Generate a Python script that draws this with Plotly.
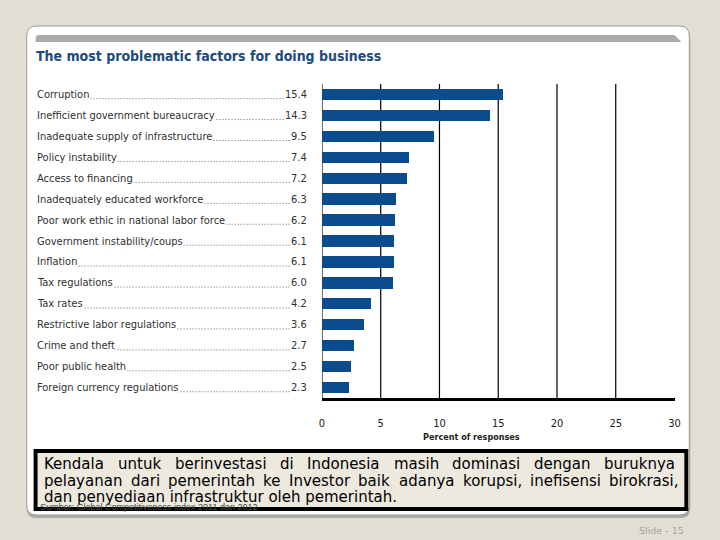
import plotly.graph_objects as go

# ---------------- data ----------------
factors = [
    "Corruption",
    "Inefficient government bureaucracy",
    "Inadequate supply of infrastructure",
    "Policy instability",
    "Access to financing",
    "Inadequately educated workforce",
    "Poor work ethic in national labor force",
    "Government instability/coups",
    "Inflation",
    "Tax regulations",
    "Tax rates",
    "Restrictive labor regulations",
    "Crime and theft",
    "Poor public health",
    "Foreign currency regulations",
]
percents = [15.4, 14.3, 9.5, 7.4, 7.2, 6.3, 6.2, 6.1, 6.1, 6.0, 4.2, 3.6, 2.7, 2.5, 2.3]
x_ticks = [0, 5, 10, 15, 20, 25, 30]
grid_ticks = [0, 5, 10, 15, 20, 25]

title_text = "The most problematic factors for doing business"
axis_title = "Percent of responses"
note_lines = [
    "Kendala untuk berinvestasi di Indonesia masih dominasi dengan buruknya",
    "pelayanan dari pemerintah ke Investor baik adanya korupsi, inefisensi birokrasi,",
    "dan penyediaan infrastruktur oleh pemerintah.",
]
source_text = "Sumber: Global Competitiveness index 2011 dan 2012"
slide_text = "Slide - 15"

# ---------------- helpers ----------------
W, H = 720, 540


def px(x):
    return x / W


def py(y):
    return 1 - y / H


def rrect(x0, y0, x1, y1, r):
    rx, ry = r / W, r / H
    X0, X1 = px(x0), px(x1)
    Y0, Y1 = py(y0), py(y1)
    return (
        f"M{X0+rx},{Y0} L{X1-rx},{Y0} Q{X1},{Y0} {X1},{Y0-ry} "
        f"L{X1},{Y1+ry} Q{X1},{Y1} {X1-rx},{Y1} "
        f"L{X0+rx},{Y1} Q{X0},{Y1} {X0},{Y1+ry} "
        f"L{X0},{Y0-ry} Q{X0},{Y0} {X0+rx},{Y0} Z"
    )


NARROW = "DejaVu Sans Condensed, Liberation Sans Narrow, Arial Narrow, sans-serif"
BAR_COLOR = "#0B4C8E"
TITLE_COLOR = "#1C4B7C"

n = len(factors)
idx = list(range(n))

fig = go.Figure()
fig.add_trace(
    go.Bar(
        x=percents,
        y=idx,
        orientation="h",
        marker=dict(color=BAR_COLOR, line=dict(width=0)),
        width=0.54,
        hoverinfo="skip",
    )
)

shapes = []
shapes.append(dict(type="path", xref="paper", yref="paper", path=rrect(24, 28, 696, 518, 10),
                   fillcolor="#A9A9A9", line=dict(width=0), layer="below"))
shapes.append(dict(type="path", xref="paper", yref="paper", path=rrect(24, 26, 695, 515, 10),
                   fillcolor="white", line=dict(color="#9C9C9C", width=1), layer="below"))
shapes.append(dict(type="path", xref="paper", yref="paper",
                   path=(f"M{px(33)},{py(42)} L{px(33)},{py(38)} Q{px(33)},{py(35)} {px(37)},{py(35)} "
                         f"L{px(680)},{py(35)} L{px(687)},{py(42)} Z"),
                   fillcolor="#ABABAB", line=dict(width=0), layer="below"))
for t in grid_ticks:
    shapes.append(dict(type="line", xref="x", yref="paper", x0=t, x1=t, y0=py(398), y1=py(84),
                       line=dict(color="black", width=1.2), layer="below"))
for i in idx:
    shapes.append(dict(type="line", xref="paper", yref="y", x0=px(34), x1=px(306),
                       y0=i + 0.2, y1=i + 0.2,
                       line=dict(color="#666666", width=1, dash="1px,2px"), layer="below"))
shapes.append(dict(type="rect", xref="paper", yref="paper", x0=px(33), x1=px(692), y0=py(451), y1=py(509),
                   fillcolor="#EEE9DF", line=dict(color="black", width=4), layer="above"))

annotations = []
annotations.append(dict(text=f"<b>{title_text}</b>", x=px(31), y=py(56), xref="paper", yref="paper",
                        xanchor="left", yanchor="middle", showarrow=False,
                        font=dict(family=NARROW, size=14, color=TITLE_COLOR)))
LABEL_FONT = dict(family=NARROW, size=11, color="#303030")
for i, (f, v) in enumerate(zip(factors, percents)):
    annotations.append(dict(text=f, x=px(33), y=i, xref="paper", yref="y", xanchor="left", yanchor="middle",
                            showarrow=False, bgcolor="white", borderpad=0, font=LABEL_FONT))
    annotations.append(dict(text=f"{v:.1f}", x=px(309), y=i, xref="paper", yref="y", xanchor="right",
                            yanchor="middle", showarrow=False, bgcolor="white", borderpad=0, font=LABEL_FONT))
annotations.append(dict(text=f"<b>{axis_title}</b>", x=px(474), y=py(437), xref="paper", yref="paper",
                        xanchor="center", yanchor="middle", showarrow=False,
                        font=dict(family=NARROW, size=9, color="#222222")))

NOTE_SIZE = 15
NOTE_FONT = dict(family="DejaVu Sans, Verdana, sans-serif", size=NOTE_SIZE, color="black")
# approximate DejaVu Sans advance widths (em) used to spread words for justified lines
EM = {"a": .613, "b": .635, "c": .550, "d": .635, "e": .615, "f": .352, "g": .635, "h": .634,
      "i": .278, "j": .278, "k": .579, "l": .278, "m": .974, "n": .634, "o": .612, "p": .635,
      "q": .635, "r": .411, "s": .521, "t": .392, "u": .634, "v": .592, "w": .818, "x": .592,
      "y": .592, "z": .525, "K": .656, "I": .295, ",": .318, ".": .318}


def wwidth(w):
    return sum(EM.get(c, 0.6) for c in w) * NOTE_SIZE


def justify(line, left, right, yc):
    words = line.split(" ")
    natural = sum(wwidth(w) for w in words)
    gap = (right - left - natural) / (len(words) - 1)
    xpos = left
    for w in words:
        wl = wwidth(w)
        annotations.append(dict(text=w, x=px(xpos + wl / 2), y=py(yc), xref="paper", yref="paper",
                                xanchor="center", yanchor="middle", showarrow=False, font=NOTE_FONT))
        xpos += wl + gap


justify(note_lines[0], 42, 680, 464)
justify(note_lines[1], 42, 684, 480.5)
annotations.append(dict(text=note_lines[2], x=px(39), y=py(497), xref="paper", yref="paper",
                        xanchor="left", yanchor="middle", showarrow=False, font=NOTE_FONT))
annotations.append(dict(text=source_text, x=px(35), y=py(507), xref="paper", yref="paper",
                        xanchor="left", yanchor="middle", showarrow=False,
                        font=dict(family="Liberation Sans, Arial, sans-serif", size=9, color="#444444")))
annotations.append(dict(text=slide_text, x=px(692), y=py(530), xref="paper", yref="paper",
                        xanchor="right", yanchor="middle", showarrow=False,
                        font=dict(family="DejaVu Sans, Verdana, sans-serif", size=9.5, color="#A3A3A3")))

fig.update_layout(
    width=W, height=H,
    margin=dict(l=0, r=0, t=0, b=0),
    paper_bgcolor="#E3DED3",
    plot_bgcolor="rgba(0,0,0,0)",
    showlegend=False,
    bargap=0,
    shapes=shapes,
    annotations=annotations,
    xaxis=dict(domain=[px(323), px(680)], range=[0, 30], tickvals=x_ticks,
               showgrid=False, zeroline=False, showline=True, linecolor="black", linewidth=3,
               ticks="outside", ticklen=13, tickcolor="rgba(0,0,0,0)",
               tickfont=dict(family=NARROW, size=11, color="#222222"), fixedrange=True),
    yaxis=dict(domain=[py(398), py(84)], range=[n - 0.5, -0.5], showticklabels=False,
               showgrid=False, zeroline=False, showline=False, ticks="", fixedrange=True),
)

fig.write_html(
    "out.html",
    config={"displayModeBar": False, "responsive": False},
    post_script="document.body.style.margin='0';document.body.style.padding='0';"
                "document.documentElement.style.overflow='hidden';",
)
